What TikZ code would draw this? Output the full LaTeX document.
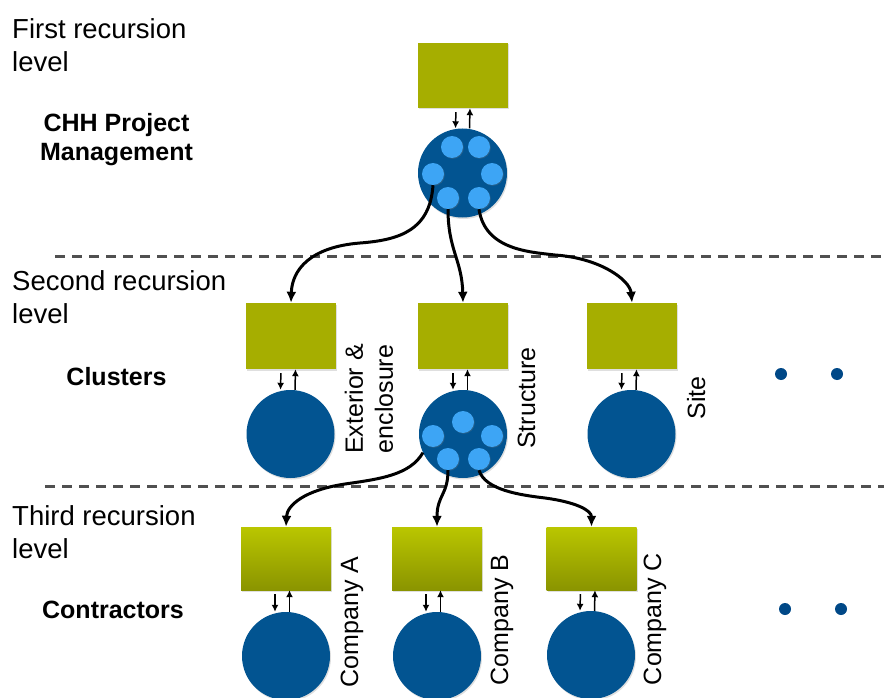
\documentclass[tikz,border=0pt]{standalone}
\usepackage{fontspec}
\setmainfont{Liberation Sans}
\usetikzlibrary{shadows,arrows.meta}
\definecolor{oliveA}{RGB}{166,174,0}
\definecolor{gtop}{RGB}{186,198,0}
\definecolor{gbot}{RGB}{138,148,0}
\definecolor{blueD}{RGB}{2,84,145}
\definecolor{blueL}{RGB}{61,165,245}
\definecolor{dotB}{RGB}{0,72,135}
\definecolor{sepG}{RGB}{80,80,80}
\begin{document}
\begin{tikzpicture}[x=1pt,y=-1pt,
  shad/.style={drop shadow={shadow xshift=1pt,shadow yshift=-1.5pt,opacity=0.25}},
  box/.style={rectangle,fill=oliveA,minimum width=90pt,minimum height=66pt,inner sep=0,shad},
  gbox/.style={rectangle,top color=gtop,bottom color=gbot,minimum width=90pt,minimum height=63pt,inner sep=0,shad},
  big/.style={circle,fill=blueD,minimum size=88pt,inner sep=0,shad},
  small/.style={circle,fill=blueL,minimum size=22pt,inner sep=0,drop shadow={shadow xshift=0.8pt,shadow yshift=-0.8pt,opacity=0.3}},
  bdot/.style={circle,fill=dotB,minimum size=12pt,inner sep=0},
  curve/.style={line width=3pt,-{Latex[length=11pt,width=10pt]}},
  io/.style={line width=1.5pt,-{Latex[length=7pt,width=7pt]}},
  sepline/.style={draw=sepG,line width=3pt,dash pattern=on 10pt off 7pt},
  lvl/.style={font=\fontsize{27.5}{33}\selectfont,align=left,inner sep=0,anchor=north west},
  bold/.style={font=\fontsize{25}{29}\selectfont\bfseries,align=center,inner sep=0},
  lab/.style={font=\fontsize{25}{30}\selectfont,rotate=90,inner sep=0}
]
\useasboundingbox (0,0) rectangle (884,698);

% separators
\draw[sepline] (55,256) -- (884,256);
\draw[sepline] (45,486) -- (884,486);

% level texts
\node[lvl] (l1) at (12,18) {First recursion\\level};
\node[lvl] (l2) at (12,270) {Second recursion\\level};
\node[lvl] (l3) at (12,505.5) {Third recursion\\level};
\node[bold,anchor=north] (n1) at (116.5,113) {CHH Project\\Management};
\node[bold,anchor=base] (n2) at (116.5,385) {Clusters};
\node[bold,anchor=base] (n3) at (113,618) {Contractors};

% first level
\node[box,minimum height=65pt] (tb) at (463,75.5) {};
\node[big,minimum size=89pt] (tc) at (462.5,173) {};
\node[small] (t1) at (452,147) {};
\node[small] (t2) at (479,147) {};
\node[small] (t3) at (433,174) {};
\node[small] (t4) at (492,174) {};
\node[small] (t5) at (448,198) {};
\node[small] (t6) at (479,198) {};
\draw[io,shorten <=4pt] ([xshift=-7pt]tb.south) -- ([xshift=-7pt]tc.north);
\draw[io] ([xshift=7pt]tc.north) -- ([xshift=7pt]tb.south);

% second level
\node[box] (b1) at (291,336) {};
\node[box] (b2) at (463,336) {};
\node[box] (b3) at (632,336) {};
\node[big] (c1) at (290.5,434) {};
\node[big] (c2) at (463,434) {};
\node[big] (c3) at (631.5,434) {};
\node[small] (s1) at (463,422) {};
\node[small] (s2) at (433,436) {};
\node[small] (s3) at (492,436) {};
\node[small] (s4) at (448,459) {};
\node[small] (s5) at (479,459) {};
\foreach \b/\c in {b1/c1,b2/c2,b3/c3}{
  \draw[io,shorten <=4pt] ([xshift=-10pt]\b.south) -- ([xshift=-10pt]\c.north);
  \draw[io] ([xshift=4.5pt]\c.north) -- ([xshift=4.5pt]\b.south);
}
\node[lab,align=center] (e1) at (369,399) {Exterior \&\\enclosure};
\node[lab,anchor=base] (e2) at (535,398) {Structure};
\node[lab,anchor=base] (e3) at (705,398) {Site};
\node[bdot] (d1) at (781,374) {};
\node[bdot] (d2) at (837,374) {};

% third level
\node[gbox] (bA) at (286,558.5) {};
\node[gbox] (bB) at (437,558.5) {};
\node[gbox] (bC) at (591.5,558.5) {};
\node[big] (cA) at (286,656) {};
\node[big] (cB) at (437,656) {};
\node[big] (cC) at (591,655) {};
\foreach \b/\c in {bA/cA,bB/cB,bC/cC}{
  \draw[io,shorten <=4pt] ([xshift=-11pt]\b.south) -- ([xshift=-11pt]\c.north);
  \draw[io] ([xshift=3.5pt]\c.north) -- ([xshift=3.5pt]\b.south);
}
\node[lab,anchor=base] (fA) at (358,622) {Company A};
\node[lab,anchor=base] (fB) at (508,620) {Company B};
\node[lab,anchor=base] (fC) at (661,619) {Company C};
\node[bdot] (d3) at (785,609) {};
\node[bdot] (d4) at (841,609) {};

% curved connectors
\draw[curve] (t3.south) .. controls (430,230) and (400,240) .. (360,243)
   .. controls (310,247) and (292,270) .. (b1.north);
\draw[curve] (t5.south) .. controls (448,250) and (462,260) .. (b2.north);
\draw[curve] (t6.south) .. controls (485,250) and (530,252) .. (555,255)
   .. controls (600,258) and (630,280) .. (b3.north);
\draw[curve] (c2.205) .. controls (410,475) and (380,479) .. (345,484)
   .. controls (305,490) and (287,505) .. (bA.north);
\draw[curve] (s4.south) .. controls (448,495) and (437,495) .. (bB.north);
\draw[curve] (s5.south) .. controls (485,490) and (520,495) .. (545,498)
   .. controls (575,502) and (591.5,510) .. (bC.north);
\end{tikzpicture}
\end{document}
